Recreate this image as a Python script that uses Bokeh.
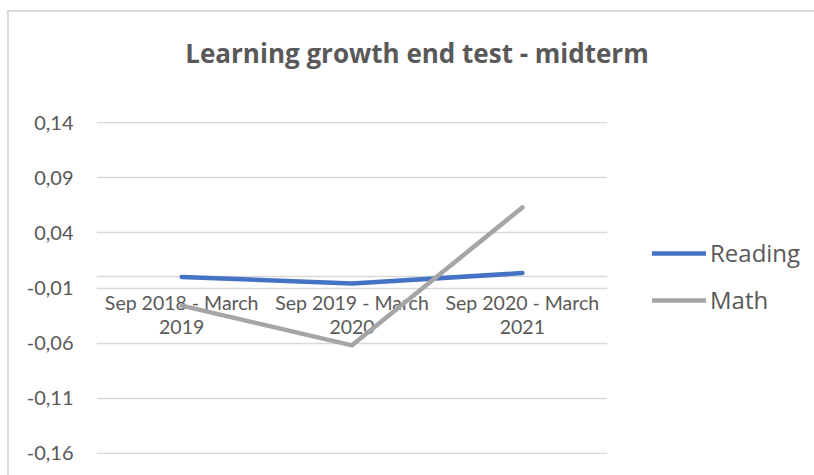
from bokeh.plotting import figure
from bokeh.models import Range1d, FixedTicker, Legend, LegendItem, Label
from bokeh.layouts import row, column
from bokeh.embed import file_html
from bokeh.resources import INLINE

# ---- data ----
categories = ["Sep 2018 - March\n2019", "Sep 2019 - March\n2020", "Sep 2020 - March\n2021"]
reading = [0.0, -0.006, 0.0035]
math_vals = [-0.026, -0.062, 0.063]
y_ticks = [-0.16, -0.11, -0.06, -0.01, 0.04, 0.09, 0.14]
y_tick_labels = ["-0,16", "-0,11", "-0,06", "-0,01", "0,04", "0,09", "0,14"]
series_names = ["Reading", "Math"]
series_values = [reading, math_vals]
series_colors = ["#4472c4", "#a5a5a5"]
title_text = "Learning growth end test - midterm"

FONT = "Lato"
TXT = "#595959"
GRID = "#d9d9d9"
LINE_W = 4.5
BORDER_LEFT = "linear-gradient(#d9d9d9,#d9d9d9) 7px 0px / 2px 100% no-repeat"
PAD = 0.001  # tiny range padding so the end gridlines are drawn


def bare(fig):
    fig.axis.visible = False
    fig.grid.visible = False
    fig.outline_line_color = None
    fig.border_fill_color = None
    fig.background_fill_color = None


xs = list(range(len(categories)))

# ---- title strip ----
tf = figure(width=814, height=100, output_backend="svg", toolbar_location=None,
            x_range=Range1d(0, 814), y_range=Range1d(100, 0),
            min_border_left=0, min_border_right=0, min_border_top=0, min_border_bottom=0)
bare(tf)
tf.styles = {"background": "linear-gradient(#d9d9d9,#d9d9d9) 7px 10px / 2px 100% no-repeat, "
                           "linear-gradient(#d9d9d9,#d9d9d9) 7px 10px / 100% 2px no-repeat"}
tf.add_layout(Label(x=416.5, y=52, text=title_text, text_align="center", text_baseline="alphabetic",
                    text_font="Open Sans", text_font_size="26px", text_font_style="bold",
                    text_color=TXT))

# ---- plot ----
p = figure(width=650, height=375, output_backend="svg", toolbar_location=None,
           x_range=Range1d(-0.5, len(categories) - 0.5),
           y_range=Range1d(y_ticks[0] - PAD, y_ticks[-1] + PAD),
           min_border_left=96, min_border_right=43, min_border_top=21, min_border_bottom=21)
p.border_fill_color = None
p.background_fill_color = None
p.outline_line_color = None
p.styles = {"background": BORDER_LEFT}

# y axis
p.yaxis.ticker = FixedTicker(ticks=y_ticks)
p.yaxis.major_label_overrides = {v: s for v, s in zip(y_ticks, y_tick_labels)}
p.yaxis.axis_line_color = None
p.yaxis.major_tick_line_color = None
p.yaxis.minor_tick_line_color = None
p.yaxis.major_tick_out = 0
p.yaxis.major_label_standoff = 23
p.yaxis.major_label_text_font = FONT
p.yaxis.major_label_text_font_size = "20px"
p.yaxis.major_label_text_color = TXT

# x axis at zero
p.xaxis.fixed_location = 0
p.xaxis.ticker = FixedTicker(ticks=xs)
p.xaxis.major_label_overrides = {i: c for i, c in zip(xs, categories)}
p.xaxis.axis_line_color = GRID
p.xaxis.axis_line_width = 1.5
p.xaxis.major_tick_line_color = None
p.xaxis.minor_tick_line_color = None
p.xaxis.major_tick_out = 0
p.xaxis.major_tick_in = 0
p.xaxis.major_label_standoff = 14
p.xaxis.major_label_text_font = FONT
p.xaxis.major_label_text_font_size = "19.5px"
p.xaxis.major_label_text_color = TXT
p.xaxis.major_label_text_line_height = 1.05
p.xaxis.level = "underlay"

p.xgrid.grid_line_color = None
p.ygrid.ticker = FixedTicker(ticks=y_ticks)
p.ygrid.grid_line_color = GRID
p.ygrid.grid_line_width = 1.3

for vals, col in zip(series_values, series_colors):
    p.line(xs, vals, line_color=col, line_width=LINE_W, line_cap="round", line_join="round")

# ---- legend panel (to the right of the plot area) ----
lg = figure(width=164, height=375, output_backend="svg", toolbar_location=None,
            x_range=Range1d(0, 1), y_range=Range1d(10, 11),
            min_border_left=0, min_border_right=0, min_border_top=0, min_border_bottom=0)
bare(lg)

items = []
for name, vals, col in zip(series_names, series_values, series_colors):
    r = lg.line(xs, vals, line_color=col, line_width=LINE_W, line_cap="round")
    items.append(LegendItem(label=name, renderers=[r]))

legend = Legend(items=items, location=(2, 138), orientation="vertical",
                glyph_width=54, glyph_height=26, label_height=26, label_standoff=4,
                spacing=14, padding=0, margin=0,
                border_line_color=None, background_fill_color=None,
                label_text_font="Open Sans", label_text_font_size="24px", label_text_color=TXT)
lg.add_layout(legend, "center")

layout = column(tf, row(p, lg, spacing=0), spacing=0)
open("out.html", "w").write(file_html(layout, INLINE))
